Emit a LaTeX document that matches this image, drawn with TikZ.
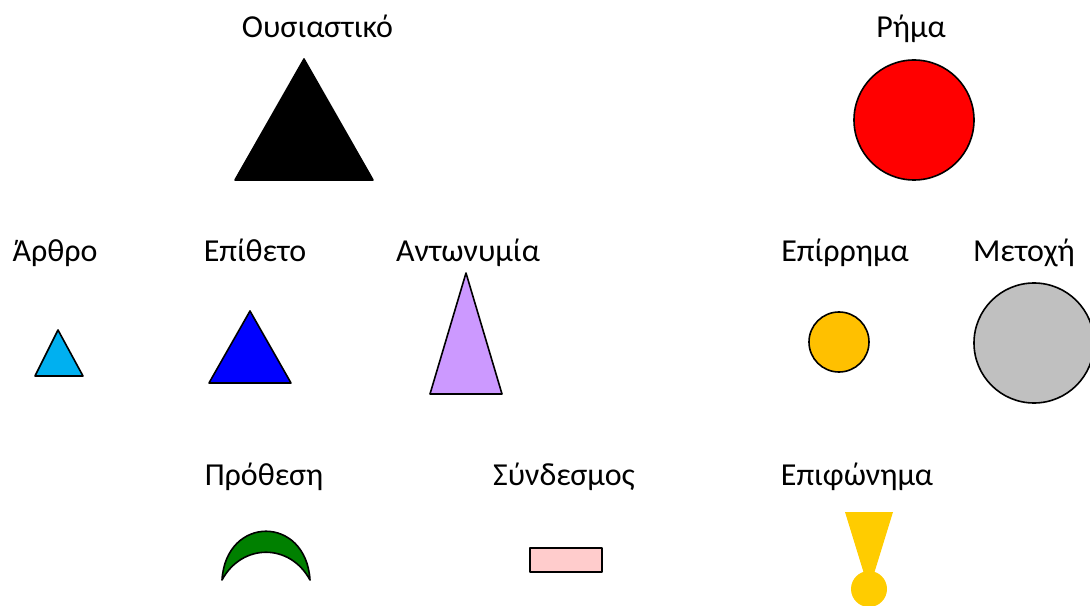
\documentclass[tikz,border=0pt]{standalone}
\usepackage{fontspec}
\setmainfont{Carlito}
\definecolor{cArthro}{HTML}{00B0F0}
\definecolor{cEpith}{HTML}{0000FF}
\definecolor{cAnton}{HTML}{CC99FF}
\definecolor{cRima}{HTML}{FF0000}
\definecolor{cEpirr}{HTML}{FFC000}
\definecolor{cMetoxi}{HTML}{C0C0C0}
\definecolor{cProth}{HTML}{008000}
\definecolor{cSynd}{HTML}{FFCCCC}
\definecolor{cEpif}{HTML}{FFCC00}
\begin{document}
\begin{tikzpicture}[x=0.75pt,y=-0.75pt,
  lbl/.style={font=\fontsize{24}{28}\selectfont, inner sep=0pt, anchor=base},
  shp/.style={draw=black, line width=1.2pt, line join=round}]
\useasboundingbox (0,0) rectangle (1090,606);
\clip (0,0) rectangle (1090,606);
% labels
\node[lbl] (lOus) at (317.5,38) {Ουσιαστικό};
\node[lbl] (lRima) at (911,38) {Ρήμα};
\node[lbl] (lArth) at (55,262) {Άρθρο};
\node[lbl] (lEpith) at (255,262) {Επίθετο};
\node[lbl] (lAnt) at (468,262) {Αντωνυμία};
\node[lbl] (lEpirr) at (845,262) {Επίρρημα};
\node[lbl] (lMet) at (1024,262) {Μετοχή};
\node[lbl] (lProth) at (264,485) {Πρόθεση};
\node[lbl] (lSynd) at (564,485) {Σύνδεσμος};
\node[lbl] (lEpif) at (857,485) {Επιφώνημα};
% shapes
\draw[shp, fill=black] (304,59) -- (373,180) -- (235,180) -- cycle;
\draw[shp, fill=cRima] (914,120) circle (60);
\draw[shp, fill=cArthro] (58,330) -- (83,376) -- (35,376) -- cycle;
\draw[shp, fill=cEpith] (250,311) -- (291,383) -- (209,383) -- cycle;
\draw[shp, fill=cAnton] (466,273) -- (502,394) -- (430,394) -- cycle;
\draw[shp, fill=cEpirr] (839,342) circle (30);
\draw[shp, fill=cMetoxi] (1034,343) circle (60);
\draw[shp, fill=cProth] (222,580) .. controls (226,515) and (306,515) .. (310,580)
   .. controls (290,543) and (242,543) .. cycle;
\draw[shp, fill=cSynd] (530,548) rectangle (602,572);
\fill[cEpif] (845,512) -- (893,512) -- (869,590) -- cycle;
\fill[cEpif] (869,589) circle (18);
\end{tikzpicture}
\end{document}
